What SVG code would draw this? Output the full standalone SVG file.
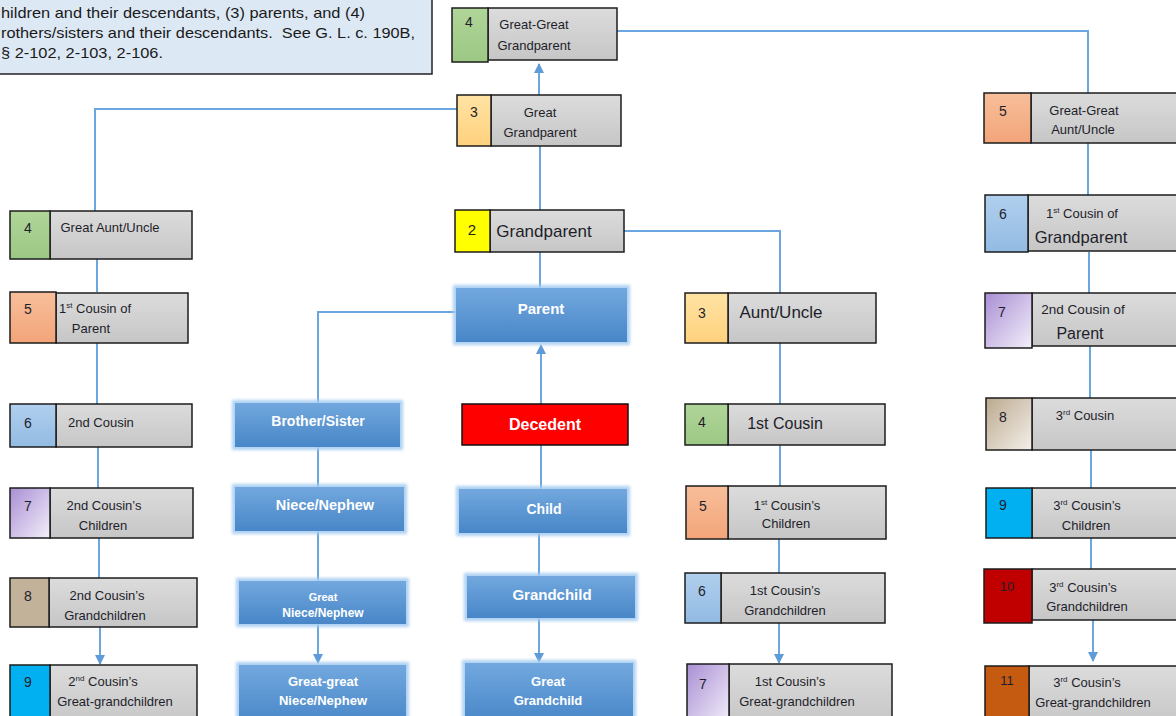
<svg xmlns="http://www.w3.org/2000/svg" width="1176" height="716" viewBox="0 0 1176 716">
<defs>
<linearGradient id="gray" x1="0" y1="0" x2="0" y2="1"><stop offset="0" stop-color="#dcdcdc"/><stop offset="1" stop-color="#c6c6c6"/></linearGradient>
<linearGradient id="blue" x1="0" y1="0" x2="0" y2="1"><stop offset="0" stop-color="#72a8de"/><stop offset="1" stop-color="#4886c8"/></linearGradient>
<linearGradient id="green" x1="0" y1="0" x2="0" y2="1"><stop offset="0" stop-color="#b0d599"/><stop offset="1" stop-color="#9cc884"/></linearGradient>
<linearGradient id="orange" x1="0" y1="0" x2="0" y2="1"><stop offset="0" stop-color="#ffe3a3"/><stop offset="1" stop-color="#ffd17e"/></linearGradient>
<linearGradient id="salmon" x1="0" y1="0" x2="0" y2="1"><stop offset="0" stop-color="#f7bf9a"/><stop offset="1" stop-color="#f3a479"/></linearGradient>
<linearGradient id="lblue" x1="0" y1="0" x2="0" y2="1"><stop offset="0" stop-color="#b1cfee"/><stop offset="1" stop-color="#92bbe3"/></linearGradient>
<linearGradient id="purple" x1="0" y1="0" x2="1" y2="1"><stop offset="0" stop-color="#a98fd4"/><stop offset="1" stop-color="#f3effa"/></linearGradient>
<linearGradient id="tan2" x1="0" y1="0" x2="1" y2="1"><stop offset="0" stop-color="#bba98f"/><stop offset="1" stop-color="#f4f0ea"/></linearGradient>
<filter id="glow" x="-10%" y="-25%" width="120%" height="150%">
<feMorphology in="SourceAlpha" operator="dilate" radius="2.5" result="d"/>
<feGaussianBlur in="d" stdDeviation="1.5" result="b"/>
<feFlood flood-color="#a6cdf2" flood-opacity="0.9"/>
<feComposite in2="b" operator="in" result="g"/>
<feMerge><feMergeNode in="g"/><feMergeNode in="SourceGraphic"/></feMerge>
</filter>
<marker id="arr" markerUnits="userSpaceOnUse" markerWidth="10" markerHeight="10" refX="9" refY="5" orient="auto" viewBox="0 0 10 10">
<path d="M0,0 L10,5 L0,10 z" fill="#5e9bd8"/>
</marker>
<style>
.g{fill:url(#gray);stroke:#1c1c1c;stroke-width:1.5}
.sq{stroke:#1c1c1c;stroke-width:1.5}
.bl{fill:url(#blue);filter:url(#glow)}
.t{font-family:"Liberation Sans",Arial,sans-serif;fill:#1e1e2a;text-anchor:middle;font-size:13px}
.s{text-anchor:start}
.n{font-family:"Liberation Sans",Arial,sans-serif;fill:#1e1e2a;text-anchor:middle;font-size:14px}
.lg{font-size:17px}
.w{font-family:"Liberation Sans",Arial,sans-serif;fill:#ffffff;text-anchor:middle;font-weight:bold;font-size:14px}
.c{fill:none;stroke:#6aa6df;stroke-width:2}
.p{font-family:"Liberation Sans",Arial,sans-serif;fill:#1a1a1a;font-size:15px}
</style>
</defs>
<rect width="1176" height="716" fill="#ffffff"/>

<g id="note">
<rect x="-10" y="-10" width="442" height="84" fill="#dde8f5" stroke="#222" stroke-width="1.5"/>
<text class="p" x="1" y="18" textLength="364" lengthAdjust="spacingAndGlyphs">hildren and their descendants, (3) parents, and (4)</text>
<text class="p" x="1" y="38" textLength="414" lengthAdjust="spacingAndGlyphs" xml:space="preserve">rothers/sisters and their descendants.  See G. L. c. 190B,</text>
<text class="p" x="1" y="58" textLength="162" lengthAdjust="spacingAndGlyphs">§ 2-102, 2-103, 2-106.</text>
</g>

<g id="connectors">
<path class="c" d="M539,95 V64" marker-end="url(#arr)"/>
<path class="c" d="M617,31 H1088 V93"/>
<path class="c" d="M457,109 H95 V211"/>
<path class="c" d="M540,146 V210"/>
<path class="c" d="M624,231 H780 V293"/>
<path class="c" d="M540,252 V288"/>
<path class="c" d="M456,312 H318 V403"/>
<path class="c" d="M541,404 V345" marker-end="url(#arr)"/>
<path class="c" d="M318,447 V487"/>
<path class="c" d="M318,531 V581"/>
<path class="c" d="M318,624 V663" marker-end="url(#arr)"/>
<path class="c" d="M541,445 V489"/>
<path class="c" d="M539,533 V576"/>
<path class="c" d="M539,618 V662" marker-end="url(#arr)"/>
<path class="c" d="M780,343 V404"/>
<path class="c" d="M780,445 V486"/>
<path class="c" d="M779,539 V573"/>
<path class="c" d="M779,623 V663" marker-end="url(#arr)"/>
<path class="c" d="M97,259 V292"/>
<path class="c" d="M97,343 V404"/>
<path class="c" d="M98,447 V488"/>
<path class="c" d="M99,538 V578"/>
<path class="c" d="M100,627 V664" marker-end="url(#arr)"/>
<path class="c" d="M1088,143 V195"/>
<path class="c" d="M1089,252 V293"/>
<path class="c" d="M1090,346 V398"/>
<path class="c" d="M1091,450 V488"/>
<path class="c" d="M1091,538 V569"/>
<path class="c" d="M1093,620 V661" marker-end="url(#arr)"/>
</g>

<g id="great-great-grandparent">
<rect class="g" x="488" y="8" width="129" height="52"/>
<rect class="sq" x="452" y="8" width="36" height="54" fill="url(#green)"/>
<text class="n" x="469" y="27">4</text>
<text class="t" x="534" y="29">Great-Great</text>
<text class="t" x="534" y="50">Grandparent</text>
</g>

<g id="great-grandparent">
<rect class="g" x="491" y="95" width="130" height="51"/>
<rect class="sq" x="457" y="95" width="34" height="51" fill="url(#orange)"/>
<text class="n" x="474" y="117">3</text>
<text class="t" x="540" y="117">Great</text>
<text class="t" x="540" y="137">Grandparent</text>
</g>

<g id="grandparent">
<rect class="g" x="490" y="210" width="134" height="42"/>
<rect class="sq" x="455" y="210" width="35" height="42" fill="#ffff00"/>
<text class="n" x="472" y="235" style="font-size:15px">2</text>
<text class="t lg" x="544" y="237">Grandparent</text>
</g>

<g id="parent">
<rect class="bl" x="456" y="288" width="171" height="54"/>
<text class="w" x="541" y="314" style="font-size:15px">Parent</text>
</g>

<g id="brother-sister">
<rect class="bl" x="235" y="403" width="165" height="44"/>
<text class="w" x="318" y="426">Brother/Sister</text>
</g>

<g id="decedent">
<rect x="462" y="404" width="166" height="41" fill="#ff0000" stroke="#111" stroke-width="1.5"/>
<text class="w" x="545" y="430" style="font-size:16px">Decedent</text>
</g>

<g id="niece-nephew">
<rect class="bl" x="235" y="487" width="169" height="44"/>
<text class="w" x="325" y="510" style="font-size:14.5px">Niece/Nephew</text>
</g>

<g id="great-niece-nephew">
<rect class="bl" x="239" y="581" width="167" height="43"/>
<text class="w" x="323" y="601" style="font-size:11px">Great</text>
<text class="w" x="323" y="617" style="font-size:12px">Niece/Nephew</text>
</g>

<g id="great-great-niece-nephew">
<rect class="bl" x="239" y="665" width="167" height="60"/>
<text class="w" x="323" y="686" style="font-size:13px">Great-great</text>
<text class="w" x="323" y="705" style="font-size:13px">Niece/Nephew</text>
</g>

<g id="child">
<rect class="bl" x="459" y="489" width="168" height="44"/>
<text class="w" x="544" y="514">Child</text>
</g>

<g id="grandchild">
<rect class="bl" x="467" y="576" width="168" height="42"/>
<text class="w" x="552" y="600" style="font-size:15px">Grandchild</text>
</g>

<g id="great-grandchild">
<rect class="bl" x="465" y="663" width="168" height="60"/>
<text class="w" x="548" y="686" style="font-size:13px">Great</text>
<text class="w" x="548" y="705" style="font-size:13px">Grandchild</text>
</g>

<g id="aunt-uncle">
<rect class="g" x="728" y="293" width="148" height="50"/>
<rect class="sq" x="685" y="293" width="43" height="50" fill="url(#orange)"/>
<text class="n" x="702" y="318">3</text>
<text class="t lg" x="781" y="318">Aunt/Uncle</text>
</g>

<g id="first-cousin">
<rect class="g" x="728" y="404" width="157" height="41"/>
<rect class="sq" x="685" y="404" width="43" height="41" fill="url(#green)"/>
<text class="n" x="702" y="427">4</text>
<text class="t" x="785" y="429" style="font-size:16px">1st Cousin</text>
</g>

<g id="first-cousins-children">
<rect class="g" x="728" y="486" width="158" height="53"/>
<rect class="sq" x="686" y="486" width="42" height="53" fill="url(#salmon)"/>
<text class="n" x="703" y="511">5</text>
<text class="t" x="787" y="510">1<tspan font-size="8" dy="-5">st</tspan><tspan dy="5"> Cousin’s</tspan></text>
<text class="t" x="786" y="528">Children</text>
</g>

<g id="first-cousins-grandchildren">
<rect class="g" x="721" y="573" width="164" height="50"/>
<rect class="sq" x="685" y="573" width="36" height="50" fill="url(#lblue)"/>
<text class="n" x="702" y="596">6</text>
<text class="t" x="785" y="595">1st Cousin’s</text>
<text class="t" x="785" y="615">Grandchildren</text>
</g>

<g id="first-cousins-great-grandchildren">
<rect class="g" x="729" y="664" width="163" height="60"/>
<rect class="sq" x="687" y="664" width="42" height="60" fill="url(#purple)"/>
<text class="n" x="703" y="689">7</text>
<text class="t" x="790" y="686">1st Cousin’s</text>
<text class="t" x="797" y="706">Great-grandchildren</text>
</g>

<g id="great-aunt-uncle">
<rect class="g" x="50" y="211" width="142" height="48"/>
<rect class="sq" x="10" y="211" width="40" height="48" fill="url(#green)"/>
<text class="n" x="28" y="233">4</text>
<text class="t" x="110" y="232">Great Aunt/Uncle</text>
</g>

<g id="first-cousin-of-parent">
<rect class="g" x="56" y="293" width="132" height="50"/>
<rect class="sq" x="10" y="292" width="46" height="51" fill="url(#salmon)"/>
<text class="n" x="28" y="314">5</text>
<text class="t s" x="59" y="313">1<tspan font-size="8" dy="-5">st</tspan><tspan dy="5"> Cousin of</tspan></text>
<text class="t" x="91" y="333">Parent</text>
</g>

<g id="second-cousin">
<rect class="g" x="56" y="404" width="136" height="43"/>
<rect class="sq" x="10" y="404" width="46" height="43" fill="url(#lblue)"/>
<text class="n" x="28" y="428">6</text>
<text class="t s" x="68" y="427">2nd Cousin</text>
</g>

<g id="second-cousins-children">
<rect class="g" x="50" y="488" width="143" height="50"/>
<rect class="sq" x="10" y="488" width="40" height="50" fill="url(#purple)"/>
<text class="n" x="28" y="511">7</text>
<text class="t" x="104" y="510">2nd Cousin’s</text>
<text class="t" x="103" y="530">Children</text>
</g>

<g id="second-cousins-grandchildren">
<rect class="g" x="49" y="578" width="148" height="49"/>
<rect class="sq" x="10" y="578" width="39" height="49" fill="#c2b29a"/>
<text class="n" x="28" y="601">8</text>
<text class="t" x="107" y="600">2nd Cousin’s</text>
<text class="t" x="105" y="620">Grandchildren</text>
</g>

<g id="second-cousins-great-grandchildren">
<rect class="g" x="50" y="665" width="147" height="60"/>
<rect class="sq" x="10" y="665" width="40" height="60" fill="#00b0f0"/>
<text class="n" x="28" y="687">9</text>
<text class="t" x="103" y="686">2<tspan font-size="8" dy="-5">nd</tspan><tspan dy="5"> Cousin’s</tspan></text>
<text class="t" x="115" y="706">Great-grandchildren</text>
</g>

<g id="great-great-aunt-uncle">
<rect class="g" x="1031" y="93" width="150" height="50"/>
<rect class="sq" x="984" y="93" width="47" height="50" fill="url(#salmon)"/>
<text class="n" x="1003" y="116">5</text>
<text class="t" x="1084" y="115">Great-Great</text>
<text class="t" x="1083" y="134">Aunt/Uncle</text>
</g>

<g id="first-cousin-of-grandparent">
<rect class="g" x="1028" y="195" width="152" height="56"/>
<rect class="sq" x="985" y="195" width="43" height="57" fill="url(#lblue)"/>
<text class="n" x="1003" y="219">6</text>
<text class="t" x="1082" y="218">1<tspan font-size="8" dy="-5">st</tspan><tspan dy="5"> Cousin of</tspan></text>
<text class="t" x="1081" y="243" style="font-size:16.5px">Grandparent</text>
</g>

<g id="second-cousin-of-parent">
<rect class="g" x="1032" y="293" width="150" height="53"/>
<rect class="sq" x="985" y="293" width="47" height="55" fill="url(#purple)"/>
<text class="n" x="1002" y="317">7</text>
<text class="t" x="1083" y="314" style="font-size:13.5px">2nd Cousin of</text>
<text class="t" x="1080" y="339" style="font-size:16px">Parent</text>
</g>

<g id="third-cousin">
<rect class="g" x="1032" y="398" width="150" height="52"/>
<rect class="sq" x="986" y="398" width="46" height="52" fill="url(#tan2)"/>
<text class="n" x="1003" y="422">8</text>
<text class="t" x="1085" y="420">3<tspan font-size="8" dy="-5">rd</tspan><tspan dy="5"> Cousin</tspan></text>
</g>

<g id="third-cousins-children">
<rect class="g" x="1032" y="488" width="150" height="50"/>
<rect class="sq" x="986" y="488" width="46" height="50" fill="#00b0f0"/>
<text class="n" x="1003" y="510">9</text>
<text class="t" x="1087" y="510">3<tspan font-size="8" dy="-5">rd</tspan><tspan dy="5"> Cousin’s</tspan></text>
<text class="t" x="1086" y="530">Children</text>
</g>

<g id="third-cousins-grandchildren">
<rect class="g" x="1032" y="569" width="150" height="51"/>
<rect class="sq" x="984" y="569" width="48" height="54" fill="#c00000"/>
<text class="n" x="1007" y="591" style="font-size:13px">10</text>
<text class="t" x="1083" y="592">3<tspan font-size="8" dy="-5">rd</tspan><tspan dy="5"> Cousin’s</tspan></text>
<text class="t" x="1087" y="611">Grandchildren</text>
</g>

<g id="third-cousins-great-grandchildren">
<rect class="g" x="1029" y="666" width="153" height="60"/>
<rect class="sq" x="985" y="666" width="44" height="60" fill="#c55a11"/>
<text class="n" x="1007" y="685" style="font-size:13px">11</text>
<text class="t" x="1087" y="687">3<tspan font-size="8" dy="-5">rd</tspan><tspan dy="5"> Cousin’s</tspan></text>
<text class="t" x="1093" y="707">Great-grandchildren</text>
</g>
</svg>
